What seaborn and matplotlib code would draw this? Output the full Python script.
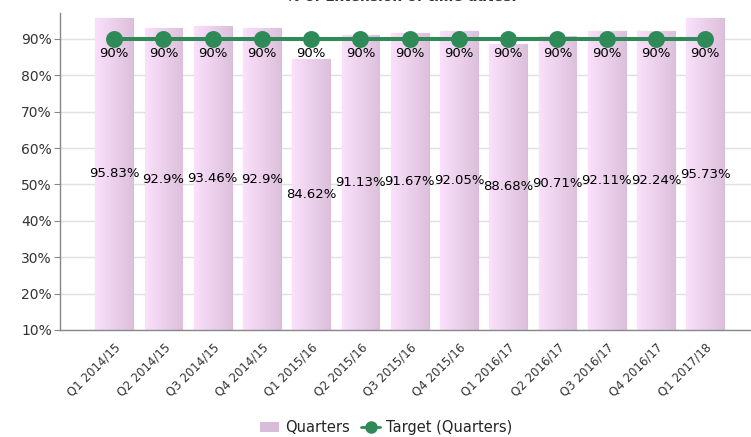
import numpy as np
import pandas as pd
import matplotlib
matplotlib.use('Agg')
import matplotlib.pyplot as plt
from matplotlib.colors import LinearSegmentedColormap
from matplotlib.patches import Patch
from matplotlib.lines import Line2D
import seaborn as sns

quarters = ['Q1 2014/15', 'Q2 2014/15', 'Q3 2014/15', 'Q4 2014/15',
            'Q1 2015/16', 'Q2 2015/16', 'Q3 2015/16', 'Q4 2015/16',
            'Q1 2016/17', 'Q2 2016/17', 'Q3 2016/17', 'Q4 2016/17',
            'Q1 2017/18']
actual = [95.83, 92.9, 93.46, 92.9, 84.62, 91.13, 91.67, 92.05,
          88.68, 90.71, 92.11, 92.24, 95.73]
target = [90] * len(quarters)
y_ticks = [10, 20, 30, 40, 50, 60, 70, 80, 90]
y_min, y_max = 10, 97.1

df = pd.DataFrame({'quarter': quarters, 'actual': actual, 'target': target})

sns.set_style('white')
plt.rcParams['font.family'] = ['DejaVu Sans']

fig = plt.figure(figsize=(7.51, 4.37), dpi=100)
ax = fig.add_axes([0.08, 0.245, 0.92, 0.725])

sns.barplot(data=df, x='quarter', y='actual', ax=ax, width=0.77,
            color='#ecd2ec', edgecolor='#d8bcd8', linewidth=0.8, zorder=2)

# horizontal pink gradient on the bars
grad = LinearSegmentedColormap.from_list('bar', ['#fbe0fb', '#dcc0dc'])
g = np.linspace(0, 1, 64).reshape(1, -1)
for p in ax.patches:
    x0, w, h = p.get_x(), p.get_width(), p.get_height()
    im = ax.imshow(g, cmap=grad, aspect='auto', zorder=2.1,
                   extent=[x0, x0 + w, y_min, h], interpolation='bicubic')
    im.set_clip_path(p)

sns.pointplot(data=df, x='quarter', y='target', ax=ax, color='#2e8b57',
              markers='o', markersize=10, linewidth=2.9, zorder=4)

for i, (v, t) in enumerate(zip(actual, target)):
    ax.text(i, (y_min + v) / 2, f'{v:g}%', ha='center', va='center',
            fontsize=9.5, color='black', zorder=5)
    ax.text(i, t - 2.3, f'{t}%', ha='center', va='top', fontsize=9.5,
            color='black', zorder=5)

ax.set_ylim(y_min, y_max)
ax.set_xlim(-1.1, len(quarters) - 0.07)
ax.set_yticks(y_ticks)
ax.set_yticklabels([f'{t}%' for t in y_ticks], fontsize=10, color='#333333')
ax.yaxis.grid(True, color='#e0e0e0', linewidth=1, zorder=0)
ax.set_axisbelow(True)
ax.set_xlabel('')
ax.set_ylabel('')
plt.setp(ax.get_xticklabels(), rotation=45, ha='right',
         rotation_mode='anchor', fontsize=8.5, color='#333333')
ax.tick_params(axis='x', length=4, color='#888888', pad=4)
ax.tick_params(axis='y', length=4, color='#888888', pad=2, left=True)

for s in ['top', 'right']:
    ax.spines[s].set_visible(False)
for s in ['left', 'bottom']:
    ax.spines[s].set_color('#888888')
    ax.spines[s].set_linewidth(1)

# title is cropped at the top edge in the reference, only a sliver shows
fig.text(0.535, 0.9975, '% of Extension of time dates.', ha='center',
         va='baseline', fontsize=10, color='#333333', fontweight='bold')

handles = [Patch(facecolor='#d8bcd8', edgecolor='none'),
           Line2D([0], [0], color='#2e8b57', marker='o', markersize=8,
                  linewidth=2)]
fig.legend(handles, ['Quarters', 'Target (Quarters)'], loc='center',
           bbox_to_anchor=(0.514, 0.022), ncol=2, frameon=False,
           fontsize=10.5, handlelength=1.3, columnspacing=0.8,
           handletextpad=0.4)

fig.savefig('out.png', dpi=100)
